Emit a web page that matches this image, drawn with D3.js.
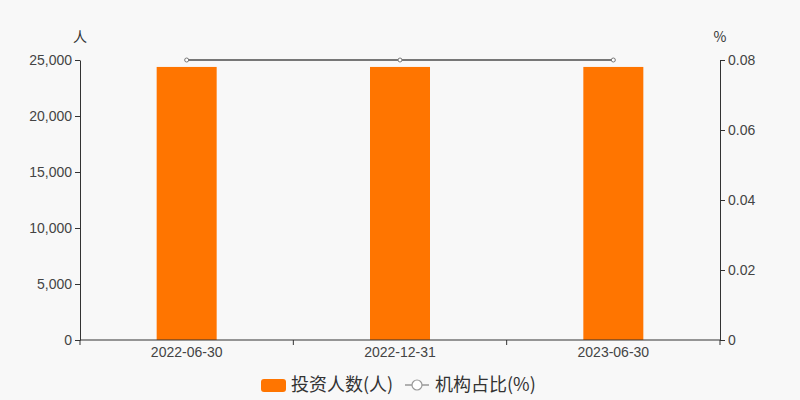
<!DOCTYPE html>
<html lang="zh">
<head>
<meta charset="UTF-8">
<title>投资人数</title>
<script src="https://d3js.org/d3.v7.min.js"></script>
<style>
  html, body {
    margin: 0;
    padding: 0;
    background-color: #f8f8f8;
    font-family: "Noto Sans CJK SC", "Liberation Sans", sans-serif;
  }
  .axis text {
    font-size: 14px;
    fill: #444;
  }
  .axis path, .axis line {
    stroke: #333;
  }
</style>
</head>
<body>
<div id="chart"></div>
<script>
  // data
  var dates = ["2022-06-30", "2022-12-31", "2023-06-30"];
  var investors = [24380, 24380, 24380];
  var instRatio = [0.08, 0.08, 0.08];
  var leftTicks = [0, 5000, 10000, 15000, 20000, 25000];
  var rightTicks = [0, 0.02, 0.04, 0.06, 0.08];

  var width = 800, height = 400;
  var margin = {top: 60, right: 80, bottom: 60, left: 80};
  var innerW = width - margin.left - margin.right;
  var innerH = height - margin.top - margin.bottom;

  var svg = d3.select("#chart")
    .append("svg")
    .attr("width", width)
    .attr("height", height);

  var g = svg.append("g")
    .attr("transform", "translate(" + margin.left + "," + margin.top + ")");

  var x = d3.scaleBand()
    .domain(dates)
    .range([0, innerW]);

  var yLeft = d3.scaleLinear()
    .domain([0, 25000])
    .range([innerH, 0]);

  var yRight = d3.scaleLinear()
    .domain([0, 0.08])
    .range([innerH, 0]);

  var barW = 60;

  // bars
  g.selectAll(".bar")
    .data(investors)
    .enter()
    .append("rect")
    .attr("class", "bar")
    .attr("fill", "#ff7500")
    .attr("x", function(d, i) { return x(dates[i]) + x.bandwidth() / 2 - barW / 2; })
    .attr("width", barW)
    .attr("y", function(d) { return yLeft(d); })
    .attr("height", function(d) { return innerH - yLeft(d); });

  // x axis
  var xAxis = d3.axisBottom(x).tickSize(0).tickPadding(7);
  var xg = g.append("g")
    .attr("class", "axis")
    .attr("transform", "translate(0," + innerH + ")")
    .call(xAxis);
  xg.select(".domain").remove();
  xg.append("line")
    .attr("x1", 0).attr("x2", innerW)
    .attr("stroke", "#333");
  // boundary ticks between bands
  xg.selectAll(".btick")
    .data([0, 1, 2, 3])
    .enter()
    .append("line")
    .attr("class", "btick")
    .attr("x1", function(d) { return d * x.step(); })
    .attr("x2", function(d) { return d * x.step(); })
    .attr("y1", 0).attr("y2", 5)
    .attr("stroke", "#333");

  // left axis
  g.append("g")
    .attr("class", "axis")
    .call(d3.axisLeft(yLeft).tickValues(leftTicks).tickSize(5).tickPadding(3).tickSizeOuter(0)
      .tickFormat(d3.format(",")));

  // right axis
  g.append("g")
    .attr("class", "axis")
    .attr("transform", "translate(" + innerW + ",0)")
    .call(d3.axisRight(yRight).tickValues(rightTicks).tickSize(5).tickPadding(3).tickSizeOuter(0)
      .tickFormat(function(d) { return d === 0 ? "0" : d3.format(".2f")(d); }));

  // axis units
  g.append("text")
    .attr("x", 0).attr("y", -18)
    .attr("text-anchor", "middle")
    .attr("font-size", 14)
    .attr("fill", "#333")
    .text("人");
  g.append("text")
    .attr("x", innerW).attr("y", -18)
    .attr("text-anchor", "middle")
    .attr("font-size", 14)
    .attr("fill", "#333")
    .text("%");

  // line series
  var line = d3.line()
    .x(function(d, i) { return x(dates[i]) + x.bandwidth() / 2; })
    .y(function(d) { return yRight(d); });

  g.append("path")
    .datum(instRatio)
    .attr("fill", "none")
    .attr("stroke", "#777")
    .attr("stroke-width", 2)
    .attr("d", line);

  g.selectAll(".dot")
    .data(instRatio)
    .enter()
    .append("circle")
    .attr("class", "dot")
    .attr("cx", function(d, i) { return x(dates[i]) + x.bandwidth() / 2; })
    .attr("cy", function(d) { return yRight(d); })
    .attr("r", 2)
    .attr("fill", "#fff")
    .attr("stroke", "#777")
    .attr("stroke-width", 1);

  // legend
  var legend = svg.append("g")
    .attr("transform", "translate(0,385)");

  legend.append("rect")
    .attr("x", 261).attr("y", -6)
    .attr("width", 25).attr("height", 13)
    .attr("rx", 3)
    .attr("fill", "#ff7500");
  legend.append("text")
    .attr("x", 291).attr("y", 0)
    .attr("dy", "0.35em")
    .attr("font-size", 18)
    .attr("fill", "#333")
    .text("投资人数(人)");

  legend.append("line")
    .attr("x1", 405).attr("x2", 429)
    .attr("y1", 0).attr("y2", 0)
    .attr("stroke", "#999")
    .attr("stroke-width", 1.5);
  legend.append("circle")
    .attr("cx", 417).attr("cy", 0)
    .attr("r", 5)
    .attr("fill", "#fff")
    .attr("stroke", "#999")
    .attr("stroke-width", 1.2);
  legend.append("text")
    .attr("x", 435).attr("y", 0)
    .attr("dy", "0.35em")
    .attr("font-size", 18)
    .attr("fill", "#333")
    .text("机构占比(%)");
</script>
</body>
</html>
